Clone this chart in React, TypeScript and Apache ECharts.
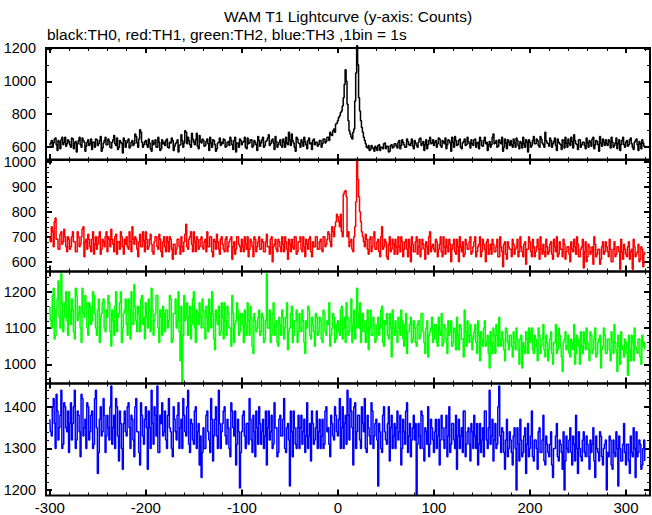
import React, { useEffect, useRef } from "react";
import * as echarts from "echarts";

const TITLE = "WAM T1 Lightcurve (y-axis: Counts)";
const SUBTITLE = "black:TH0, red:TH1, green:TH2, blue:TH3 ,1bin = 1s";

// 1 s bins from -300 s to 320 s; values are split into even-second and odd-second bins
const T_START = -300;

// even seconds: -300, -298, ..., 320
const TH0_EVEN = [
  610,640,625,655,580,630,645,615,660,620,
  635,600,650,625,570,640,615,655,630,605,
  645,620,585,630,650,610,640,575,625,660,
  615,635,595,645,620,655,600,630,565,640,
  625,650,605,640,620,665,600,705,630,615,
  640,600,625,575,615,645,600,630,590,620,
  610,650,595,625,640,605,630,570,615,640,
  625,690,660,615,685,630,645,605,670,625,
  640,610,650,580,625,645,615,590,630,610,
  620,645,605,635,660,615,640,570,625,650,
  615,635,600,655,625,645,610,630,580,640,
  625,660,610,640,675,620,650,585,635,615,
  645,600,630,660,615,640,680,625,575,650,
  620,645,605,635,590,655,625,640,615,630,
  615,640,620,650,635,660,690,670,710,740,
  760,790,820,900,1070,860,700,660,690,880,
  1215,900,760,690,640,600,610,585,600,575,
  595,610,580,600,620,590,605,575,615,600,
  620,595,640,610,630,600,650,615,625,605,
  640,610,630,655,620,580,645,615,660,625,
  610,640,620,650,600,630,655,615,640,575,
  630,665,610,640,600,625,650,615,635,595,
  620,645,600,630,660,610,640,620,580,635,
  615,680,625,600,645,620,575,650,590,630,
  640,600,625,655,610,635,595,620,645,570,
  630,610,665,620,640,600,650,615,690,625,
  605,640,620,655,580,630,615,645,595,625,
  650,610,635,675,620,585,645,615,630,590,
  625,640,605,660,615,635,575,625,650,610,
  620,645,595,630,610,655,620,580,640,615,
  630,605,645,620,585,640,615,635,590,625,
  610,
];
// odd seconds: -299, -297, ..., 319
const TH0_ODD = [
  625,600,650,615,640,590,660,630,605,645,
  615,655,590,635,620,660,600,640,575,630,
  610,650,630,600,645,620,665,595,640,615,
  650,600,630,670,610,585,640,620,655,600,
  640,595,630,610,680,625,650,690,600,635,
  615,650,590,640,625,600,660,580,645,630,
  640,600,630,655,580,620,645,610,675,600,
  700,620,640,600,650,615,685,590,635,650,
  605,635,620,660,600,640,575,625,655,630,
  650,600,630,610,640,585,660,625,600,640,
  630,660,590,620,645,600,640,615,665,605,
  645,600,635,655,610,640,625,665,600,630,
  610,650,600,625,690,610,640,600,660,625,
  600,630,660,615,640,620,585,650,630,605,
  640,600,650,625,660,640,675,700,690,745,
  780,810,850,980,1000,760,680,650,710,1050,
  1100,820,720,660,620,595,580,610,590,605,
  580,615,600,590,625,605,570,610,595,620,
  605,630,590,645,615,600,635,610,650,590,
  625,600,650,610,635,615,590,640,620,645,
  630,600,655,610,640,620,590,645,625,660,
  600,640,615,650,590,635,610,660,620,645,
  610,650,625,590,640,605,660,630,615,600,
  660,620,640,605,630,660,600,625,645,610,
  615,650,600,640,590,625,660,600,630,645,
  600,640,620,650,610,665,625,600,640,620,
  655,600,635,610,650,620,585,640,660,600,
  625,660,595,640,615,645,600,630,610,655,
  600,630,650,590,640,615,665,605,630,645,
  610,635,660,600,625,590,645,615,660,600,
  640,615,655,600,630,650,580,620,645,605,
];

const TH1_EVEN = [
  700,740,660,775,690,650,720,680,700,640,
  690,660,720,680,640,700,670,730,620,690,
  710,660,690,630,700,670,720,650,680,700,
  640,690,730,670,700,630,680,720,660,690,
  700,650,680,740,670,690,620,710,660,685,
  720,650,690,670,630,700,660,710,640,680,
  660,700,640,690,610,670,650,690,630,660,
  680,750,650,700,670,720,640,690,660,700,
  650,690,720,660,700,620,680,710,650,690,
  670,640,700,660,690,610,680,650,700,660,
  690,640,670,700,650,680,620,690,660,700,
  650,680,640,710,660,690,600,670,650,690,
  660,700,640,680,610,670,690,650,700,640,
  680,650,700,620,670,690,640,680,660,700,
  650,690,640,700,670,720,680,740,700,760,
  780,740,720,870,885,700,660,690,640,740,
  1010,860,760,700,660,690,630,700,660,720,
  650,690,620,740,660,680,610,700,650,670,
  690,630,660,700,620,680,650,690,600,670,
  640,700,660,620,690,650,680,630,720,660,
  650,690,620,670,640,700,630,660,690,600,
  670,640,690,600,660,680,630,670,650,700,
  640,680,620,660,700,640,670,600,690,650,
  630,670,640,690,620,660,580,680,610,660,
  650,690,630,660,620,700,640,670,590,650,
  680,620,660,640,690,610,650,670,620,660,
  640,680,610,660,700,630,650,620,670,640,
  660,600,650,690,630,670,620,660,575,680,
  620,660,640,590,670,630,650,610,680,640,
  660,620,650,600,680,630,660,570,640,670,
  630,660,610,650,690,620,640,600,660,580,
  640,
];
const TH1_ODD = [
  680,720,760,690,650,710,670,730,660,700,
  650,700,680,640,720,660,700,740,680,650,
  690,640,720,670,650,700,630,690,660,720,
  700,660,690,640,710,680,650,700,630,670,
  660,720,640,690,700,650,680,660,720,640,
  690,660,710,640,680,700,650,690,620,700,
  640,680,700,650,670,630,690,660,700,640,
  710,660,690,720,640,680,700,650,690,660,
  680,640,660,700,640,690,650,680,630,700,
  650,690,640,680,700,660,630,700,670,640,
  660,700,650,620,690,660,700,640,680,650,
  690,640,680,660,630,700,660,690,640,680,
  640,670,700,650,690,640,660,700,630,680,
  700,640,660,690,650,700,620,660,700,650,
  680,650,700,660,690,710,660,720,740,790,
  760,790,700,880,860,720,680,650,700,840,
  930,800,720,680,710,650,690,640,700,650,
  680,640,700,650,690,620,670,640,690,630,
  660,700,640,680,650,690,620,660,700,640,
  680,630,690,650,670,610,660,700,640,670,
  640,680,650,700,620,660,690,640,670,650,
  690,630,660,700,640,620,690,650,680,630,
  660,700,640,670,620,690,650,680,630,670,
  690,640,660,620,700,640,670,630,680,650,
  620,670,650,690,640,660,620,680,650,700,
  640,690,620,660,650,700,630,640,690,630,
  670,630,690,640,620,680,650,690,610,660,
  630,680,640,660,700,620,650,690,640,600,
  670,630,660,700,620,650,590,660,630,680,
  640,690,600,650,620,660,640,690,610,650,
  620,680,640,570,660,630,670,610,650,630,
];

const TH2_EVEN = [
  1160,1100,1210,1080,1180,1130,1250,1090,1170,1120,
  1200,1110,1150,1070,1190,1140,1100,1210,1130,1170,
  1080,1160,1120,1190,1100,1150,1060,1140,1180,1090,
  1130,1170,1050,1120,1160,1090,1140,1200,1100,1150,
  1110,1180,1070,1140,1220,1120,1160,1090,1190,1130,
  1170,1100,1150,1210,1080,1140,1190,1060,1130,1160,
  1090,1150,1120,1180,1070,1140,1100,1200,1010,950,
  1190,1130,1080,1160,1110,1200,1060,1140,1170,1100,
  1150,1070,1130,1180,1100,1140,1040,1120,1160,1090,
  1130,1170,1080,1140,1100,1190,1060,1120,1150,1090,
  1140,1060,1110,1170,1080,1130,1030,1120,1100,1150,
  1090,1130,1070,1250,1100,1060,1140,1080,1120,1050,
  1110,1150,1070,1130,1040,1100,1160,1080,1120,1060,
  1140,1090,1120,1030,1100,1150,1070,1110,1050,1130,
  1090,1120,1060,1140,1080,1110,1050,1100,1130,1070,
  1120,1080,1160,1100,1060,1130,1090,1180,1110,1070,
  1210,1100,1060,1140,1090,1120,1040,1150,1080,1110,
  1070,1130,1100,1160,1050,1110,1080,1140,1020,1100,
  1120,1060,1100,1150,1070,1110,1030,1090,1130,1070,
  1100,1050,1120,1080,1140,1060,1100,1020,1090,1130,
  1070,1110,1050,1090,1140,1060,1100,1030,1080,1120,
  1060,1090,1130,1040,1100,1070,1150,1050,1080,1110,
  1040,1090,1060,1120,1010,1070,1100,1050,1080,990,
  1060,1100,1030,1080,1130,1050,1070,1010,1090,1040,
  1080,1020,1060,1100,1040,1070,990,1050,1090,1030,
  1060,1100,1030,1070,1010,1080,1050,1110,1020,1060,
  1040,1090,1000,1060,1030,1100,1050,980,1070,1040,
  1080,1020,1060,1110,1030,1070,1000,1050,1090,1040,
  1060,1010,1080,1040,1100,1030,1070,990,1050,1080,
  1030,1070,1010,1060,1110,1040,1080,1000,1050,1020,
  1060,970,1040,1080,1010,1050,1030,1070,1000,1050,
  1040,
];
const TH2_ODD = [
  1120,1190,1070,1150,1230,1100,1170,1130,1200,1080,
  1150,1180,1090,1210,1120,1160,1060,1140,1190,1100,
  1170,1110,1200,1140,1080,1180,1130,1170,1100,1150,
  1190,1090,1150,1080,1200,1130,1170,1060,1140,1180,
  1080,1150,1200,1110,1160,1090,1140,1180,1110,1070,
  1130,1180,1090,1150,1120,1190,1100,1150,1080,1140,
  1150,1100,1190,1060,1140,1180,1120,1090,1160,1080,
  1120,1170,1130,1070,1180,1100,1150,1110,1130,1180,
  1100,1160,1090,1140,1200,1070,1150,1110,1080,1170,
  1070,1120,1160,1100,1050,1140,1110,1170,1080,1140,
  1110,1150,1080,1120,1160,1050,1140,1090,1130,1080,
  1140,1060,1120,1100,1150,1080,1170,1110,1060,1130,
  1080,1130,1100,1170,1090,1140,1060,1120,1150,1090,
  1100,1150,1060,1120,1160,1080,1130,1090,1140,1080,
  1130,1070,1150,1090,1120,1170,1080,1140,1060,1110,
  1090,1150,1070,1130,1170,1080,1120,1060,1150,1100,
  1140,1170,1090,1120,1060,1150,1100,1080,1130,1060,
  1110,1080,1150,1060,1120,1140,1070,1100,1150,1080,
  1090,1130,1080,1120,1050,1140,1090,1110,1060,1120,
  1060,1110,1070,1140,1090,1030,1120,1080,1100,1060,
  1110,1060,1130,1080,1050,1110,1070,1120,1090,1050,
  1100,1040,1080,1110,1070,1020,1090,1120,1060,1080,
  1070,1110,1030,1080,1090,1050,1120,1060,1030,1090,
  1030,1080,1110,1050,1070,1090,1040,1100,1060,1080,
  1050,1090,1040,1070,1000,1080,1060,1030,1070,1100,
  1090,1040,1080,1050,1100,1030,1070,1040,1080,1010,
  1070,1030,1060,1110,1040,1080,1020,1060,1090,1050,
  1030,1070,1040,1000,1080,1050,1090,1030,1060,1100,
  1040,1090,1030,1070,1020,1060,1080,1040,1100,1030,
  1070,1040,1090,1030,1060,980,1050,1090,1040,1070,
  1030,1080,1010,1060,1100,1040,1070,1020,1080,1060,
];

const TH3_EVEN = [
  1370,1330,1420,1300,1390,1350,1440,1310,1400,1340,
  1290,1410,1360,1440,1320,1380,1280,1420,1350,1300,
  1400,1340,1390,1310,1440,1240,1370,1330,1420,1290,
  1380,1320,1450,1350,1300,1400,1270,1360,1250,1390,
  1330,1410,1300,1370,1280,1420,1340,1260,1380,1310,
  1400,1250,1350,1440,1310,1380,1450,1290,1360,1330,
  1390,1300,1420,1340,1280,1370,1320,1410,1350,1300,
  1380,1330,1440,1290,1360,1310,1400,1340,1260,1230,
  1350,1300,1390,1320,1420,1270,1370,1330,1440,1300,
  1360,1400,1310,1350,1280,1390,1330,1260,1370,1205,
  1340,1390,1300,1360,1420,1320,1380,1280,1350,1400,
  1310,1370,1330,1260,1390,1340,1300,1410,1350,1290,
  1380,1330,1420,1290,1360,1210,1340,1390,1310,1350,
  1300,1380,1340,1290,1410,1330,1270,1360,1320,1390,
  1340,1300,1370,1310,1400,1350,1280,1360,1320,1380,
  1330,1420,1350,1300,1380,1440,1320,1390,1260,1410,
  1340,1380,1300,1360,1420,1290,1350,1310,1390,1330,
  1370,1210,1340,1290,1400,1320,1360,1270,1380,1330,
  1300,1390,1340,1260,1370,1310,1410,1330,1280,1350,
  1320,1190,1360,1300,1380,1270,1340,1400,1310,1350,
  1290,1370,1330,1260,1380,1320,1350,1280,1400,1310,
  1360,1300,1250,1370,1330,1290,1390,1310,1350,1270,
  1340,1380,1300,1260,1360,1320,1280,1390,1300,1440,
  1330,1270,1360,1310,1450,1290,1340,1250,1370,1300,
  1320,1260,1350,1200,1310,1370,1280,1330,1240,1360,
  1300,1390,1270,1320,1250,1350,1290,1380,1260,1310,
  1280,1340,1230,1300,1360,1270,1310,1250,1200,1330,
  1290,1350,1260,1310,1380,1240,1300,1270,1340,1280,
  1310,1250,1290,1350,1230,1300,1270,1330,1260,1310,
  1200,1280,1320,1250,1290,1340,1210,1300,1270,1360,
  1260,1310,1240,1290,1350,1230,1280,1320,1250,1300,
  1270,
];
const TH3_ODD = [
  1340,1400,1360,1430,1320,1380,1300,1410,1350,1390,
  1360,1320,1400,1300,1390,1340,1430,1330,1370,1410,
  1320,1380,1300,1420,1350,1290,1400,1340,1380,1330,
  1350,1400,1310,1380,1420,1330,1390,1300,1360,1340,
  1400,1350,1380,1320,1400,1340,1290,1410,1330,1370,
  1350,1390,1300,1360,1400,1330,1290,1380,1410,1340,
  1320,1380,1350,1300,1400,1340,1380,1300,1370,1420,
  1340,1400,1310,1370,1320,1390,1300,1360,1330,1290,
  1300,1380,1340,1290,1370,1330,1400,1300,1360,1340,
  1390,1330,1370,1300,1410,1350,1390,1310,1340,1290,
  1380,1330,1360,1310,1370,1290,1340,1390,1310,1360,
  1340,1300,1390,1350,1320,1380,1310,1350,1280,1370,
  1330,1370,1300,1350,1320,1390,1280,1350,1300,1380,
  1350,1310,1370,1330,1300,1360,1390,1310,1350,1300,
  1370,1330,1300,1390,1340,1310,1380,1330,1400,1340,
  1370,1300,1400,1360,1310,1380,1420,1350,1400,1300,
  1380,1320,1400,1340,1300,1380,1330,1410,1300,1360,
  1320,1360,1300,1380,1340,1310,1400,1350,1300,1360,
  1350,1320,1380,1300,1340,1390,1290,1360,1320,1380,
  1360,1310,1330,1390,1300,1350,1310,1280,1370,1320,
  1340,1300,1370,1320,1350,1300,1380,1330,1290,1360,
  1320,1380,1330,1300,1350,1390,1280,1340,1310,1360,
  1300,1330,1360,1310,1290,1350,1390,1320,1350,1310,
  1370,1320,1300,1400,1330,1350,1290,1320,1280,1340,
  1290,1330,1300,1350,1270,1320,1290,1350,1310,1280,
  1330,1280,1320,1300,1340,1290,1320,1270,1330,1290,
  1310,1260,1300,1330,1280,1320,1290,1340,1270,1300,
  1320,1290,1330,1270,1300,1340,1280,1320,1290,1330,
  1280,1320,1310,1270,1330,1290,1340,1280,1300,1320,
  1290,1330,1260,1320,1280,1300,1330,1270,1310,1290,
  1310,1270,1330,1280,1300,1340,1290,1310,1260,1320,
];

const X_MIN = -304;
const X_MAX = 325;
const X_MAJOR = [-300, -200, -100, 0, 100, 200, 300];
const X_MINOR_STEP = 20;

const PANEL_COLORS = ["#000000", "#ff0000", "#00ff00", "#0000ff"];
const PANEL_MIN = [522, 561, 947, 1187];
const PANEL_MAX = [1202, 1009, 1256, 1456];
const PANEL_LABELS = [
  [600, 800, 1000, 1200],
  [600, 700, 800, 900, 1000],
  [1000, 1100, 1200],
  [1200, 1300, 1400],
];
const PANEL_MINOR_STEP = [100, 20, 20, 20];

const FONT = "'Liberation Sans', Arial, Helvetica, sans-serif";
const GRID_LEFT = 46;
const GRID_WIDTH = 604;
const GRID_TOPS = [48, 159.5, 271.5, 383.5];
const GRID_HEIGHT = 112;

function stepValues(from: number, to: number, step: number) {
  const out: number[] = [];
  const start = Math.ceil(from / step) * step;
  for (let v = start; v <= to; v += step) out.push(v);
  return out;
}

function merge(even: number[], odd: number[]) {
  const out: [number, number][] = [];
  for (let i = 0; i < even.length + odd.length; i++) {
    const v = i % 2 === 0 ? even[i / 2] : odd[(i - 1) / 2];
    if (v !== undefined) out.push([T_START + i, v]);
  }
  return out;
}

export default function App() {
  const ref = useRef<HTMLDivElement>(null);
  useEffect(() => {
    if (!ref.current) return;
    const chart = echarts.init(ref.current, null, { renderer: "svg" });
    const allSeries = [
      merge(TH0_EVEN, TH0_ODD),
      merge(TH1_EVEN, TH1_ODD),
      merge(TH2_EVEN, TH2_ODD),
      merge(TH3_EVEN, TH3_ODD),
    ];
    const grids: any[] = [];
    const xAxes: any[] = [];
    const yAxes: any[] = [];
    const series: any[] = [];
    const xMinor = stepValues(X_MIN, X_MAX, X_MINOR_STEP);
    const fmt = (v: number) => String(v);

    const xAx = (gi: number, pos: string, vals: number[], len: number, w: number, labels: boolean) => ({
      type: "value",
      gridIndex: gi,
      position: pos,
      min: X_MIN,
      max: X_MAX,
      axisLine: { show: false, onZero: false },
      splitLine: { show: false },
      axisTick: { show: true, inside: true, length: len, customValues: vals, lineStyle: { color: "#000", width: w } },
      axisLabel: labels
        ? { show: true, customValues: X_MAJOR, formatter: fmt, margin: 4, fontSize: 15, color: "#000", fontFamily: FONT }
        : { show: false },
    });
    const yAx = (gi: number, pos: string, vals: number[], len: number, w: number, labels: number[] | null) => ({
      type: "value",
      gridIndex: gi,
      position: pos,
      min: PANEL_MIN[gi],
      max: PANEL_MAX[gi],
      axisLine: { show: false, onZero: false },
      splitLine: { show: false },
      axisTick: { show: true, inside: true, length: len, customValues: vals, lineStyle: { color: "#000", width: w } },
      axisLabel: labels
        ? { show: true, customValues: labels, formatter: fmt, margin: 10, fontSize: 14.5, color: "#000", fontFamily: FONT }
        : { show: false },
    });

    for (let gi = 0; gi < 4; gi++) {
      grids.push({
        left: GRID_LEFT,
        width: GRID_WIDTH,
        top: GRID_TOPS[gi],
        height: GRID_HEIGHT,
        show: true,
        borderColor: "#000",
        borderWidth: 2,
        backgroundColor: "transparent",
        z: 5,
      });
      const last = gi === 3;
      xAxes.push(xAx(gi, "bottom", X_MAJOR, 6, 2, last));
      xAxes.push(xAx(gi, "bottom", xMinor, 3, 1, false));
      xAxes.push(xAx(gi, "top", X_MAJOR, 5, 2, false));
      xAxes.push(xAx(gi, "top", xMinor, 3, 1, false));
      const yMinor = stepValues(PANEL_MIN[gi], PANEL_MAX[gi], PANEL_MINOR_STEP[gi]);
      yAxes.push(yAx(gi, "left", PANEL_LABELS[gi], 6, 2, PANEL_LABELS[gi]));
      yAxes.push(yAx(gi, "left", yMinor, 3, 1, null));
      yAxes.push(yAx(gi, "right", PANEL_LABELS[gi], 6, 2, null));
      yAxes.push(yAx(gi, "right", yMinor, 3, 1, null));
      series.push({
        type: "line",
        name: "TH" + gi,
        xAxisIndex: gi * 4,
        yAxisIndex: gi * 4,
        data: allSeries[gi],
        step: "middle",
        showSymbol: false,
        symbol: "none",
        clip: false,
        lineStyle: { color: PANEL_COLORS[gi], width: 1.5 },
        z: 3,
      });
    }

    chart.setOption({
      animation: false,
      backgroundColor: "#ffffff",
      grid: grids,
      xAxis: xAxes,
      yAxis: yAxes,
      series,
      graphic: [
        {
          type: "text",
          x: 348,
          y: 16,
          style: { text: TITLE, fontSize: 15.5, fontFamily: FONT, fill: "#000", textAlign: "center", textVerticalAlign: "middle" },
        },
        {
          type: "text",
          x: 47,
          y: 34,
          style: { text: SUBTITLE, fontSize: 15.5, fontFamily: FONT, fill: "#000", textAlign: "left", textVerticalAlign: "middle" },
        },
      ],
    });
    return () => chart.dispose();
  }, []);
  return (
    <div
      ref={ref}
      style={{ position: "absolute", left: 0, top: 0, width: 652, height: 515, background: "#fff" }}
    />
  );
}
